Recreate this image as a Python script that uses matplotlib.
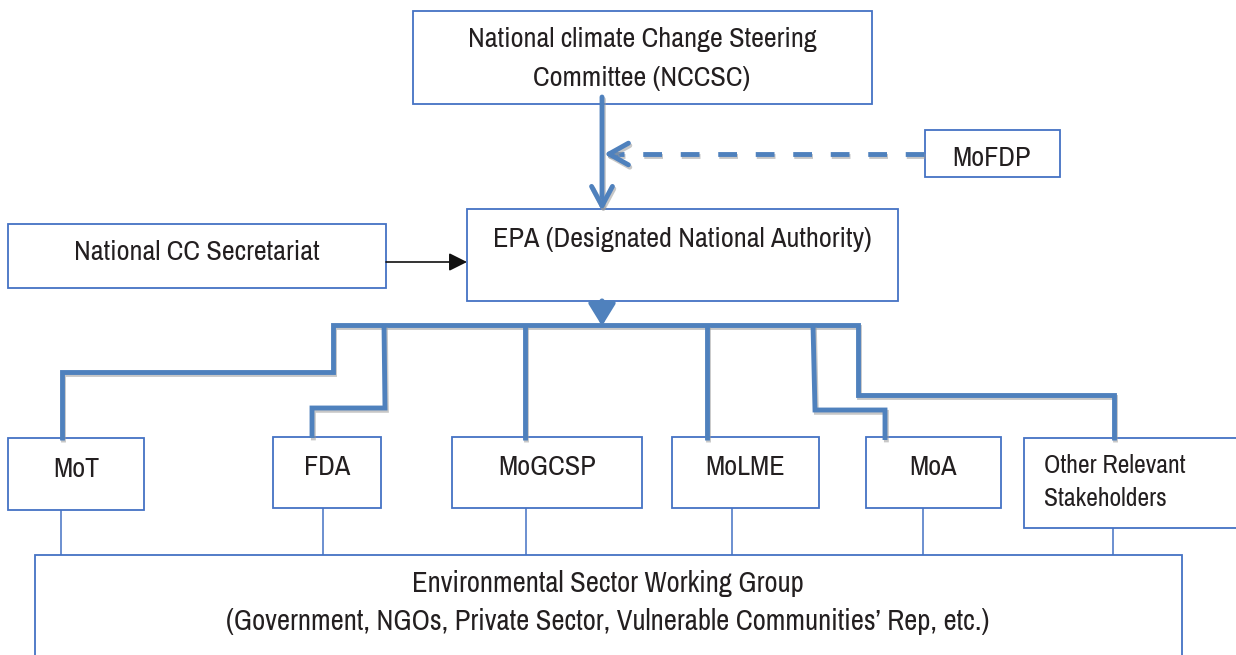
import matplotlib
matplotlib.use("Agg")
import matplotlib.pyplot as plt
from matplotlib.patches import Rectangle, FancyArrowPatch
from matplotlib import patheffects as pe
from matplotlib import font_manager as fm

# ---- content ----
top_label = ["National climate Change Steering", "Committee (NCCSC)"]
side_label = "MoFDP"
epa_label = "EPA (Designated National Authority)"
secretariat_label = "National CC Secretariat"
member_labels = ["MoT", "FDA", "MoGCSP", "MoLME", "MoA"]
other_label = ["Other Relevant", "Stakeholders"]
group_label = ["Environmental Sector Working Group",
               "(Government, NGOs, Private Sector, Vulnerable Communities\u2019 Rep, etc.)"]

# ---- layout (pixel coordinates, y downwards) ----
W, H = 1236, 655
BOX_EC = "#4472C4"
LINE_C = "#4F81BD"
TXT_C = "#231F20"

names = {f.name for f in fm.fontManager.ttflist}
FAM = ["DejaVu Sans"]
FS, FS_S, FS_G = 16, 14.8, 16.2
for cand, fs, fss, fsg in [("Liberation Sans Narrow", 20.3, 18.5, 20.5),
                           ("Archivo Narrow", 20.3, 18.5, 20.6),
                           ("Roboto Condensed", 20.3, 18.5, 20.5)]:
    if cand in names:
        FAM = [cand, "DejaVu Sans"]
        FS, FS_S, FS_G = fs, fss, fsg
        break

boxes = {
    "top": (413, 11, 872, 104),
    "side": (925, 130, 1060, 177),
    "epa": (467, 209, 898, 301),
    "sec": (8, 224, 386, 288),
    "MoT": (8, 438, 144, 510),
    "FDA": (273, 437, 381, 508),
    "MoGCSP": (452, 437, 642, 508),
    "MoLME": (672, 437, 819, 508),
    "MoA": (866, 437, 1001, 508),
    "other": (1024, 438, 1250, 528),
    "group": (35, 555, 1182, 700),
}
member_text_x = [76, 327, 547, 745, 933]
member_base_y = [477, 475, 475, 475, 475]
bus_paths = [
    [(62, 440), (62, 372), (333, 372), (333, 325), (858, 325), (858, 395), (1114, 395), (1114, 440)],
    [(384, 325), (385, 408), (312, 408), (312, 438)],
    [(525, 325), (525, 440)],
    [(707, 325), (707, 440)],
    [(813, 325), (815, 410), (885, 410), (885, 440)],
]
thin_x = [61, 323, 526, 732, 923, 1113]
thin_top = [510, 508, 508, 508, 508, 528]

fig = plt.figure(figsize=(W / 100, H / 100), dpi=100)
ax = fig.add_axes([0, 0, 1, 1])
ax.set_xlim(0, W)
ax.set_ylim(H, 0)
ax.axis("off")

LW = 3.5
shadow = [pe.SimpleLineShadow(offset=(1.0, -1.7), shadow_color="#9a9a9a", alpha=0.55), pe.Normal()]

# boxes
for key, (x0, y0, x1, y1) in boxes.items():
    ax.add_patch(Rectangle((x0, y0), x1 - x0, y1 - y0, fill=True, fc="white",
                           ec=BOX_EC, lw=1.3, zorder=2, clip_on=True))

# thin connectors between member boxes and working group
for x, yt in zip(thin_x, thin_top):
    ax.plot([x, x], [yt, 555], color=BOX_EC, lw=1.1, zorder=1)

# thick bus lines
for path in bus_paths:
    xs, ys = zip(*path)
    ax.plot(xs, ys, color=LINE_C, lw=LW, solid_joinstyle="miter",
            solid_capstyle="butt", zorder=3, path_effects=shadow)

# arrows
a1 = FancyArrowPatch((602, 97), (602, 211), arrowstyle="->,head_length=14,head_width=7.5",
                     color=LINE_C, lw=LW, mutation_scale=1, shrinkA=0, shrinkB=0,
                     zorder=4, path_effects=shadow)
ax.add_patch(a1)

# dashed connector from MoFDP + solid open head
ax.plot([924, 612], [154, 154], color=LINE_C, lw=LW, dashes=(13.5 / LW, 13.5 / LW),
        solid_capstyle="butt", dash_capstyle="butt", zorder=4, path_effects=shadow)
a2 = FancyArrowPatch((616, 154), (604, 154), arrowstyle="->,head_length=14,head_width=7.8",
                     color=LINE_C, lw=LW, mutation_scale=1, shrinkA=0, shrinkB=0,
                     zorder=4, path_effects=shadow)
ax.add_patch(a2)

a3 = FancyArrowPatch((602, 301), (602, 326), arrowstyle="-|>,head_length=13,head_width=8",
                     color=LINE_C, lw=3.7, mutation_scale=1, shrinkA=0, shrinkB=0, zorder=4)
ax.add_patch(a3)

a4 = FancyArrowPatch((386, 262), (467, 262), arrowstyle="-|>,head_length=11,head_width=5.5",
                     color="#111111", lw=1.2, mutation_scale=1, shrinkA=0, shrinkB=0, zorder=4)
ax.add_patch(a4)

# texts
kw = dict(family=FAM, color=TXT_C, fontsize=FS, ha="center", va="baseline", zorder=5)
ax.text(642, 47, top_label[0], **kw)
ax.text(642, 86, top_label[1], **kw)
ax.text(992, 166, side_label, **kw)
ax.text(682, 247, epa_label, **kw)
ax.text(197, 260, secretariat_label, **kw)
for lab, x, y in zip(member_labels, member_text_x, member_base_y):
    ax.text(x, y, lab, **kw)
kws = dict(kw)
kws.update(fontsize=FS_S, ha="left")
ax.text(1044, 473, other_label[0], **kws)
ax.text(1044, 506, other_label[1], **kws)
kwg = dict(kw)
kwg.update(fontsize=FS_G)
ax.text(608, 592, group_label[0], **kwg)
ax.text(608, 630, group_label[1], **kwg)

fig.savefig("out.png", dpi=100, facecolor="white")
